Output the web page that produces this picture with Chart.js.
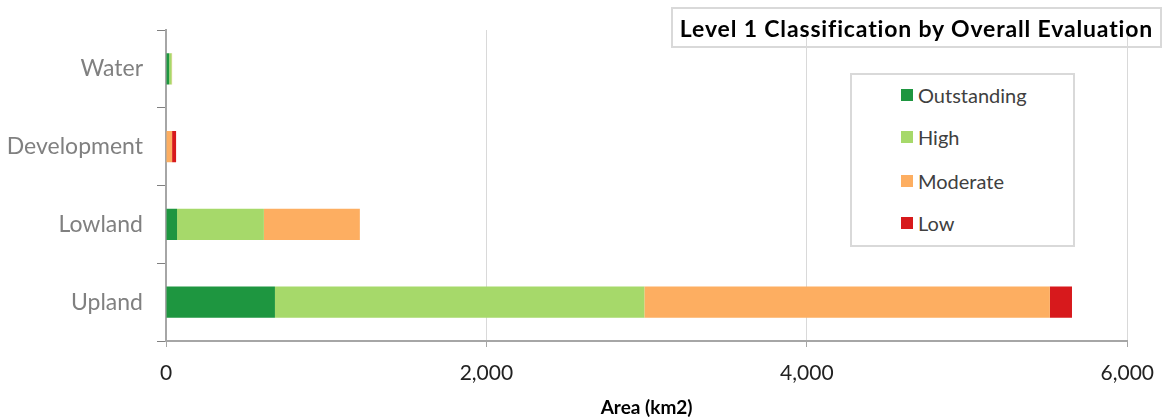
<!DOCTYPE html>
<html>
<head>
<meta charset="utf-8">
<script src="https://cdn.jsdelivr.net/npm/chart.js@4"></script>
<style>
  html, body { margin: 0; padding: 0; background: #fff; }
  #wrap { position: relative; width: 1168px; height: 420px; }
  #chart { position: absolute; left: 0; top: 0; }
  #titleBox {
    position: absolute; left: 671px; top: 7px; width: 487px; height: 37px;
    border: 2px solid #d9d9d9; font: bold 23px Lato, sans-serif; color: #000;
    letter-spacing: 0.85px;
    display: flex; align-items: center; justify-content: center;
  }
  #legendBox {
    position: absolute; left: 850px; top: 73px; width: 221px; height: 170px;
    border: 2px solid #d9d9d9; background: #fff;
  }
  .item { position: absolute; left: 49px; font: 20px Lato, sans-serif; color: #404040; display: flex; align-items: center; }
  .sw { width: 12px; height: 12px; margin-right: 5px; }
</style>
</head>
<body>
<div id="wrap">
  <canvas id="chart" width="1168" height="420"></canvas>
  <div id="titleBox">Level 1 Classification by Overall Evaluation</div>
  <div id="legendBox"></div>
</div>
<script>
// categories, top to bottom
const categories = ["Water", "Development", "Lowland", "Upland"];

// area (km2) per evaluation class
const outstanding = [20, 0, 69, 680];
const high = [15, 3, 542, 2306];
const moderate = [3, 35, 599, 2531];
const low = [0, 25, 0, 138];

const seriesNames = ["Outstanding", "High", "Moderate", "Low"];
const seriesColors = ["#1e9640", "#a6d96a", "#fdae61", "#d7191c"];
const xTicks = [0, 2000, 4000, 6000];

const seriesData = [outstanding, high, moderate, low];

const datasets = seriesNames.map((name, i) => ({
  label: name,
  data: seriesData[i],
  backgroundColor: seriesColors[i],
  borderWidth: 0,
  barPercentage: 0.4,
  categoryPercentage: 1
}));

new Chart(document.getElementById("chart").getContext("2d"), {
  type: "bar",
  data: { labels: categories, datasets },
  options: {
    indexAxis: "y",
    responsive: false,
    animation: false,
    layout: { padding: { top: 30, right: 40, left: 0, bottom: 0 } },
    plugins: { legend: { display: false }, tooltip: { enabled: false } },
    scales: {
      x: {
        stacked: true,
        min: 0,
        max: 6000,
        afterBuildTicks: s => { s.ticks = xTicks.map(v => ({ value: v })); },
        ticks: {
          color: "#222",
          font: { family: "Lato", size: 21 },
          padding: 14,
          callback: v => v.toLocaleString("en-US")
        },
        grid: { color: "#d9d9d9", lineWidth: 1, tickLength: 6, tickColor: "#a6a6a6" },
        border: { color: "#a6a6a6", width: 2 },
        title: {
          display: true,
          text: "Area (km2)",
          color: "#000",
          font: { family: "Lato", size: 19, weight: "bold" },
          padding: { top: 0, bottom: 1 }
        },
        afterFit: s => { s.height = 79; }
      },
      y: {
        stacked: true,
        ticks: {
          color: "#808080",
          font: { family: "Lato", size: 23 },
          padding: 14
        },
        grid: { offset: true, drawOnChartArea: false, tickLength: 9, color: "#808080" },
        border: { color: "#a6a6a6", width: 2 },
        afterFit: s => { s.width = 166; }
      }
    }
  }
});

// legend built from the series arrays
const legendBox = document.getElementById("legendBox");
const rowTops = [8, 50, 94, 136];
seriesNames.forEach((name, i) => {
  const el = document.createElement("div");
  el.className = "item";
  el.style.top = rowTops[i] + "px";
  el.innerHTML = '<span class="sw" style="background:' + seriesColors[i] + '"></span>' + name;
  legendBox.appendChild(el);
});
</script>
</body>
</html>
